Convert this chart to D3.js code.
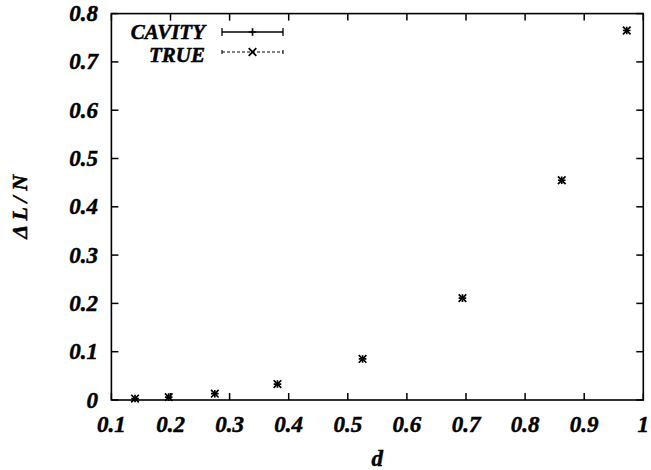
<!DOCTYPE html>
<html><head><meta charset="utf-8">
<script src="https://cdn.jsdelivr.net/npm/d3@7/dist/d3.min.js"></script>
<style>
body{margin:0;background:#fff;}
text{font-family:"Liberation Serif","Times New Roman",serif;font-weight:bold;font-style:italic;fill:#000;stroke:#000;stroke-width:0.5px;}
</style></head>
<body><svg id="c" width="651" height="470"></svg>
<script>
const dValues = [0.140, 0.197, 0.275, 0.381, 0.525, 0.694, 0.862, 0.972];
const cavity = [0.003, 0.006, 0.013, 0.033, 0.085, 0.211, 0.455, 0.765];
const trueVals = [0.003, 0.006, 0.013, 0.033, 0.085, 0.211, 0.455, 0.765];
const seriesNames = ["CAVITY", "TRUE"];
const xTicks = [0.1, 0.2, 0.3, 0.4, 0.5, 0.6, 0.7, 0.8, 0.9, 1];
const yTicks = [0, 0.1, 0.2, 0.3, 0.4, 0.5, 0.6, 0.7, 0.8];

const svg = d3.select("#c");
const L = 111.4, R = 643.3, T = 13.6, B = 400;
const x = d3.scaleLinear().domain([0.1, 1]).range([L, R]);
const y = d3.scaleLinear().domain([0, 0.8]).range([B, T]);
const fmt = v => v === 0 ? "0" : (v === 1 ? "1" : String(v));

// ticks (inward, mirrored)
const tl = 7;
const g = svg.append("g").attr("stroke", "#000").attr("stroke-width", 1.5);
xTicks.forEach(v => {
  g.append("line").attr("x1", x(v)).attr("x2", x(v)).attr("y1", B).attr("y2", B - tl);
  g.append("line").attr("x1", x(v)).attr("x2", x(v)).attr("y1", T).attr("y2", T + tl);
});
yTicks.forEach(v => {
  g.append("line").attr("x1", L).attr("x2", L + tl).attr("y1", y(v)).attr("y2", y(v));
  g.append("line").attr("x1", R).attr("x2", R - tl).attr("y1", y(v)).attr("y2", y(v));
});
svg.append("rect").attr("x", L).attr("y", T).attr("width", R - L).attr("height", B - T)
  .attr("fill", "none").attr("stroke", "#000").attr("stroke-width", 1.6);

// tick labels
svg.append("g").selectAll("text").data(xTicks).join("text")
  .attr("x", d => x(d)).attr("y", 432).attr("text-anchor", "middle")
  .attr("font-size", 23).text(fmt);
svg.append("g").selectAll("text").data(yTicks).join("text")
  .attr("x", 98).attr("y", d => y(d) + 7.5).attr("text-anchor", "end")
  .attr("font-size", 23).text(fmt);

// axis titles
svg.append("text").attr("x", (L + R) / 2).attr("y", 466).attr("text-anchor", "middle")
  .attr("font-size", 23).text("d");
svg.append("text").attr("transform", `translate(27,${(T + B) / 2}) rotate(-90)`)
  .attr("text-anchor", "middle").attr("font-size", 22).text("Δ L / N");

// markers
const ms = 3.8;
function plus(sel, cx, cy) {
  sel.append("path").attr("d", `M${cx - ms},${cy}H${cx + ms}M${cx},${cy - ms}V${cy + ms}`)
    .attr("stroke", "#000").attr("stroke-width", 1.7).attr("fill", "none");
}
function cross(sel, cx, cy) {
  sel.append("path").attr("d", `M${cx - ms},${cy - ms}L${cx + ms},${cy + ms}M${cx - ms},${cy + ms}L${cx + ms},${cy - ms}`)
    .attr("stroke", "#000").attr("stroke-width", 1.7).attr("fill", "none");
}
const pts = svg.append("g");
dValues.forEach((d, i) => { plus(pts, x(d), y(cavity[i])); });
dValues.forEach((d, i) => { cross(pts, x(d), y(trueVals[i])); });

// legend
const lg = svg.append("g");
const ly = [32, 52];
const tb = [38.5, 62];
lg.selectAll("text").data(seriesNames).join("text")
  .attr("x", 205).attr("y", (d, i) => tb[i]).attr("text-anchor", "end")
  .attr("font-size", 21).text(d => d);
const lx1 = 222, lx2 = 283, lm = (lx1 + lx2) / 2;
lg.append("line").attr("x1", lx1).attr("x2", lx2).attr("y1", ly[0]).attr("y2", ly[0])
  .attr("stroke", "#000").attr("stroke-width", 1.3);
lg.append("path").attr("d", `M${lx1},${ly[0] - 4}V${ly[0] + 4}M${lx2},${ly[0] - 4}V${ly[0] + 4}`)
  .attr("stroke", "#000").attr("stroke-width", 1.3);
plus(lg, lm, ly[0]);
lg.append("line").attr("x1", lx1).attr("x2", lx2).attr("y1", ly[1]).attr("y2", ly[1])
  .attr("stroke", "#000").attr("stroke-width", 1.1).attr("stroke-dasharray", "3,2");
lg.append("path").attr("d", `M${lx1},${ly[1] - 2}V${ly[1] + 2}M${lx2},${ly[1] - 2}V${ly[1] + 2}`)
  .attr("stroke", "#000").attr("stroke-width", 1.1);
cross(lg, lm, ly[1]);
</script></body></html>
